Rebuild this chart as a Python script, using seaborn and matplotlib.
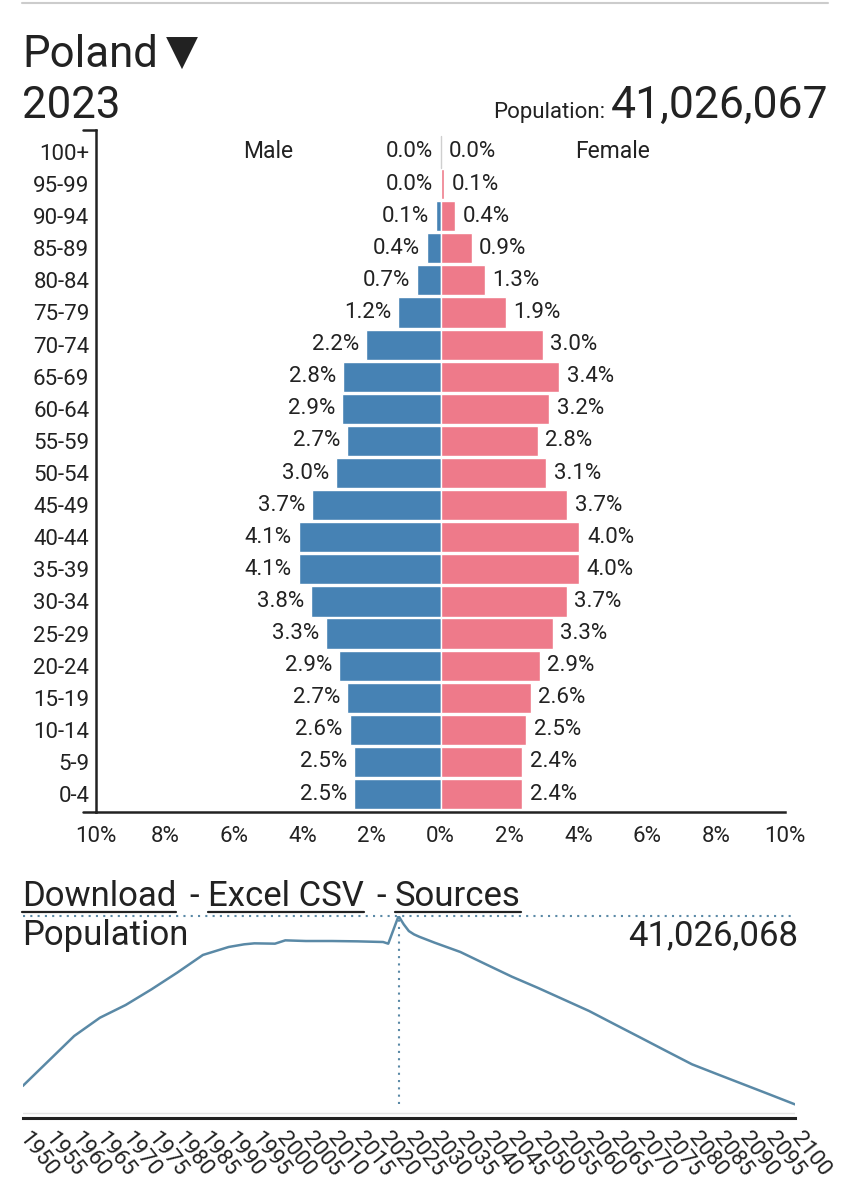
import numpy as np
import pandas as pd
import seaborn as sns
import matplotlib.pyplot as plt

# age pyramid, Poland 2023 (% of total population)
age_groups = ['0-4', '5-9', '10-14', '15-19', '20-24', '25-29', '30-34', '35-39',
              '40-44', '45-49', '50-54', '55-59', '60-64', '65-69', '70-74',
              '75-79', '80-84', '85-89', '90-94', '95-99', '100+']
male_pct = [2.52, 2.52, 2.64, 2.71, 2.94, 3.33, 3.76, 4.12, 4.12, 3.73, 3.04,
            2.72, 2.87, 2.84, 2.16, 1.23, 0.70, 0.39, 0.14, 0.02, 0.01]
female_pct = [2.37, 2.37, 2.49, 2.61, 2.88, 3.26, 3.66, 4.02, 4.03, 3.68, 3.06,
              2.82, 3.16, 3.44, 2.96, 1.90, 1.29, 0.90, 0.41, 0.10, 0.01]

# total population over time (millions)
years = [1950, 1955, 1960, 1965, 1970, 1975, 1980, 1985, 1990, 1993, 1995, 1999,
         2001, 2005, 2010, 2015, 2020, 2021, 2023, 2024, 2025, 2026, 2027, 2030,
         2035, 2040, 2045, 2050, 2055, 2060, 2065, 2070, 2075, 2080, 2085, 2090,
         2095, 2100]
population = [25.67, 27.93, 30.19, 31.84, 32.99, 34.40, 35.91, 37.51, 38.23, 38.47,
              38.56, 38.53, 38.83, 38.77, 38.77, 38.74, 38.68, 38.53, 41.03, 40.28,
              39.67, 39.37, 39.16, 38.62, 37.78, 36.66, 35.55, 34.55, 33.50, 32.45,
              31.24, 30.04, 28.83, 27.63, 26.72, 25.82, 24.92, 24.01]

sns.set_style('white')
plt.rcParams['font.family'] = ['Roboto', 'DejaVu Sans']
ink = '#222222'
male_col = '#4682b4'
female_col = '#ee7a8a'
line_col = '#5a89a6'
fs = 16

W, H = 850, 1185
fig = plt.figure(figsize=(W / 100, H / 100), dpi=100)


def fx(x):
    return x / W


def fy(y):
    return 1 - y / H


# ---- header
fig.add_artist(plt.Line2D([fx(22), fx(828)], [fy(3), fy(3)], color='#cccccc', lw=1.5))
fig.text(fx(22), fy(67), 'Poland', fontsize=31.5, color=ink, va='baseline')
fig.text(fx(166), fy(53), '▼', fontsize=30, color=ink, va='center', family='DejaVu Sans')
fig.text(fx(22), fy(118), '2023', fontsize=31.5, color=ink, va='baseline')
fig.text(fx(828), fy(118), '41,026,067', fontsize=32, color=ink, va='baseline', ha='right')
fig.text(fx(605), fy(118), 'Population:', fontsize=16, color=ink, va='baseline', ha='right')

# ---- pyramid
order = age_groups[::-1]
df = pd.DataFrame({'age': age_groups, 'male': male_pct, 'female': female_pct})
df['male_neg'] = -df['male']

ax = fig.add_axes([fx(96.3), fy(812), (785 - 96.3) / W, (812 - 130) / H])
sns.barplot(data=df, x='male_neg', y='age', order=order, color=male_col,
            saturation=1, width=0.94, orient='h', ax=ax)
sns.barplot(data=df, x='female', y='age', order=order, color=female_col,
            saturation=1, width=0.94, orient='h', ax=ax)

lab = df.set_index('age')
for i, a in enumerate(order):
    m = lab.loc[a, 'male']
    f = lab.loc[a, 'female']
    ax.text(-m - 0.2, i, f'{m:.1f}%', ha='right', va='center', fontsize=fs, color=ink)
    ax.text(f + 0.22, i, f'{f:.1f}%', ha='left', va='center', fontsize=fs, color=ink)
ax.plot([0, 0], [-0.5, 0.5], color='#cfcfcf', lw=1)
ax.text(-5.0, 0, 'Male', ha='center', va='center', fontsize=16.5, color=ink)
ax.text(5.0, 0, 'Female', ha='center', va='center', fontsize=16.5, color=ink)

ax.set_xlim(-10, 10)
ax.set_ylim(20.56, -0.685)
ticks = list(range(-10, 11, 2))
ax.set_xticks(ticks)
ax.set_xticklabels([f'{abs(t)}%' for t in ticks], fontsize=fs, color=ink)
ax.set_yticks(range(len(order)))
ax.set_yticklabels(order, fontsize=fs, color=ink)
ax.set_xlabel('')
ax.set_ylabel('')
ax.tick_params(axis='y', length=0, pad=5)
ax.tick_params(axis='x', length=6, width=1.8, color=ink, pad=4)
for s in ['top', 'right']:
    ax.spines[s].set_visible(False)
for s in ['left', 'bottom']:
    ax.spines[s].set_color(ink)
    ax.spines[s].set_linewidth(1.8)
for yy in [-0.685, 20.56]:
    ax.plot([-10.4, -10], [yy, yy], color=ink, lw=1.8, clip_on=False)

# ---- links + population line
parts = [('Download', 22, True), ('-', 189, False), ('Excel CSV', 208, True),
         ('-', 376, False), ('Sources', 395, True)]
link_texts = []
for s, x0, ul in parts:
    t = fig.text(fx(x0), fy(906), s, fontsize=25, color=ink, va='baseline')
    if ul:
        link_texts.append(t)
fig.text(fx(22), fy(945), 'Population', fontsize=25, color=ink, va='baseline')
fig.text(fx(798), fy(945), '41,026,068', fontsize=25, color=ink, va='baseline', ha='right')

ax2 = fig.add_axes([fx(22.7), fy(1118), 772.3 / W, 202 / H])
sns.lineplot(x=years, y=population, color=line_col, lw=1.8, ax=ax2)
ax2.set_xlim(1950, 2100)
ax2.set_ylim(22.78, 41.03)
ax2.axhline(41.03, color=line_col, lw=1.5, ls=(0, (1, 2.5)), clip_on=False)
ax2.plot([2023, 2023], [24.0, 41.03], color=line_col, lw=1.5, ls=(0, (1, 2.5)))
ax2.axhline(23.2, color='#e4e4e4', lw=1)
yt = list(range(1950, 2101, 5))
ax2.set_xticks(yt)
ax2.set_xticklabels([str(y) for y in yt], rotation=-52, ha='left', va='center',
                    rotation_mode='anchor', fontsize=fs, color=ink)
ax2.set_yticks([])
ax2.tick_params(axis='x', length=7, width=1.5, color=ink, pad=5)
for s in ['top', 'right', 'left']:
    ax2.spines[s].set_visible(False)
ax2.spines['bottom'].set_color(ink)
ax2.spines['bottom'].set_linewidth(2.2)

# underline the links
fig.canvas.draw()
r = fig.canvas.get_renderer()
for t in link_texts:
    bb = t.get_window_extent(r)
    fig.add_artist(plt.Line2D([bb.x0 / W, bb.x1 / W], [fy(912), fy(912)], color=ink, lw=1.6))

fig.savefig('out.png', dpi=100)
